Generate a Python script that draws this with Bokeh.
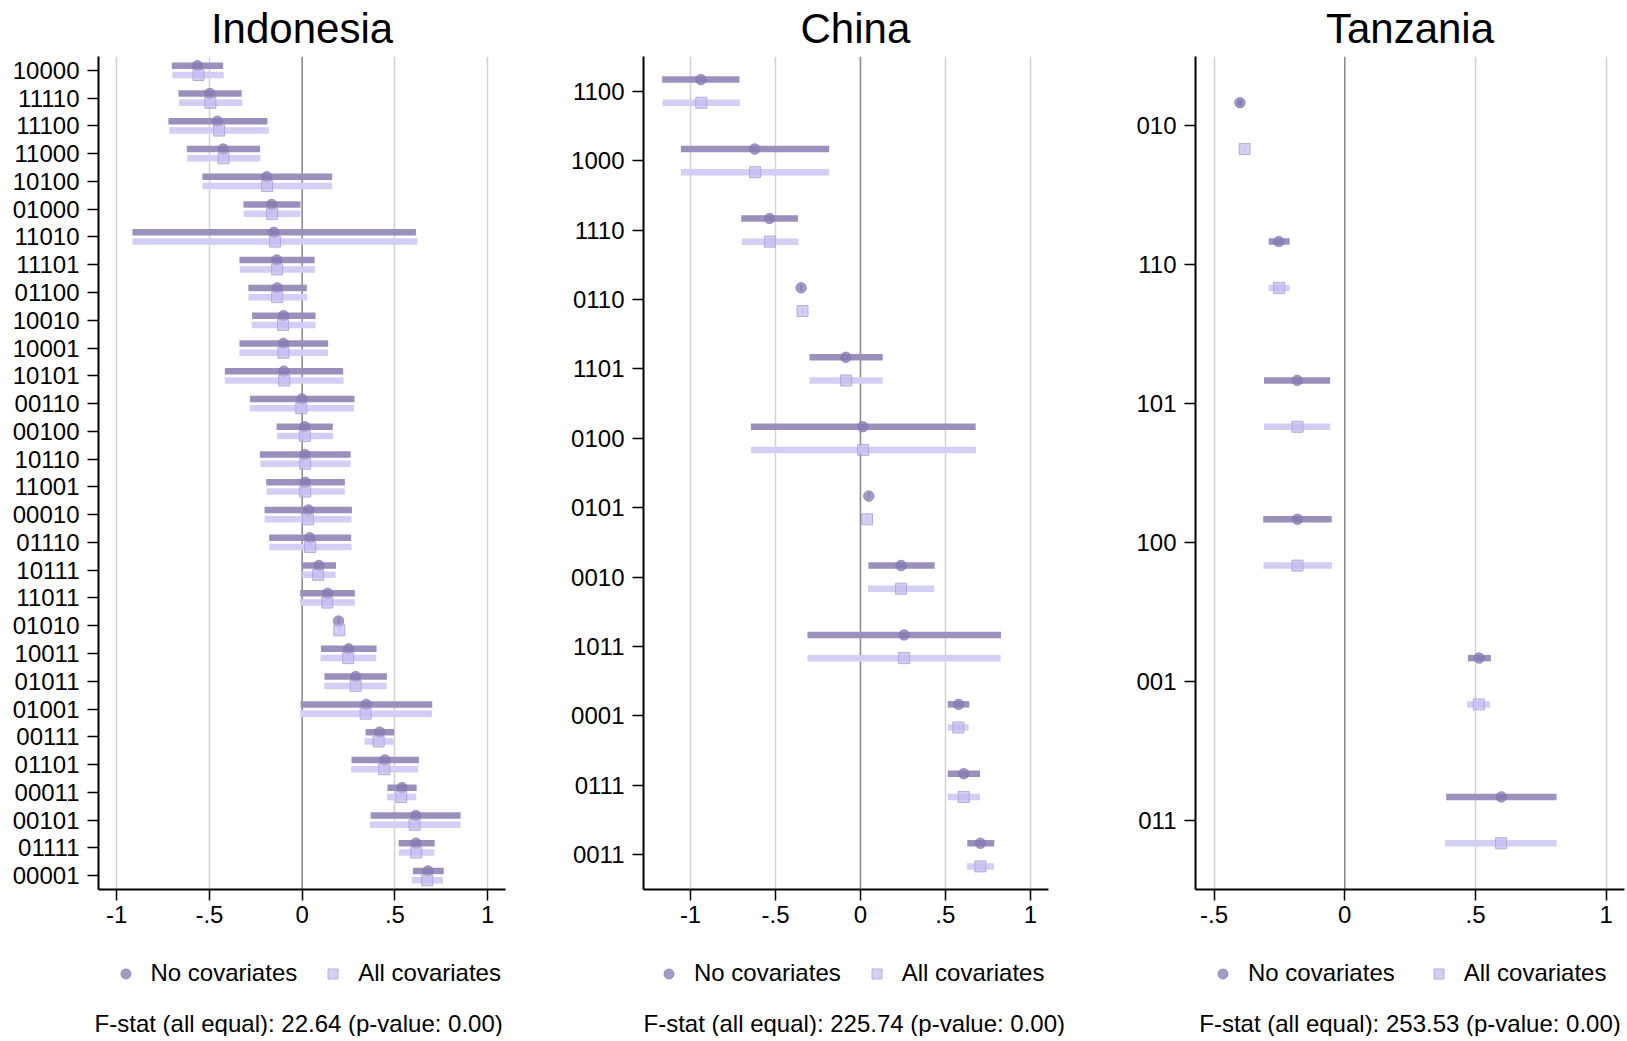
from bokeh.plotting import figure
from bokeh.models import (FactorRange, Range1d, ColumnDataSource, FixedTicker, Span,
                          Legend, LegendItem, Title)
from bokeh.transform import dodge
from bokeh.layouts import row, column
from bokeh.embed import file_html
from bokeh.resources import INLINE

# ---------------- data ----------------
cats_idn = ["10000", "11110", "11100", "11000", "10100", "01000", "11010", "11101", "01100", "10010",
            "10001", "10101", "00110", "00100", "10110", "11001", "00010", "01110", "10111", "11011",
            "01010", "10011", "01011", "01001", "00111", "01101", "00011", "00101", "01111", "00001"]
idn_b0 = [-0.565, -0.498, -0.457, -0.426, -0.191, -0.164, -0.153, -0.137, -0.135, -0.101,
          -0.101, -0.099, -0.002, 0.013, 0.014, 0.016, 0.034, 0.041, 0.090, 0.137,
          0.196, 0.250, 0.288, 0.345, 0.417, 0.446, 0.538, 0.612, 0.613, 0.678]
idn_lo0 = [-0.703, -0.667, -0.721, -0.622, -0.538, -0.317, -0.915, -0.338, -0.290, -0.270,
           -0.338, -0.417, -0.281, -0.138, -0.228, -0.194, -0.203, -0.178, -0.004, -0.011,
           0.191, 0.101, 0.120, -0.009, 0.342, 0.266, 0.460, 0.369, 0.520, 0.597]
idn_hi0 = [-0.426, -0.326, -0.187, -0.227, 0.162, -0.009, 0.613, 0.067, 0.025, 0.072,
           0.140, 0.221, 0.282, 0.165, 0.261, 0.230, 0.268, 0.264, 0.182, 0.284,
           0.201, 0.401, 0.457, 0.701, 0.495, 0.629, 0.617, 0.854, 0.714, 0.763]
idn_b1 = [-0.559, -0.495, -0.448, -0.424, -0.189, -0.162, -0.146, -0.135, -0.135, -0.103,
          -0.101, -0.097, -0.005, 0.014, 0.016, 0.016, 0.031, 0.043, 0.086, 0.135,
          0.200, 0.248, 0.288, 0.342, 0.412, 0.442, 0.534, 0.606, 0.615, 0.674]
idn_lo1 = [-0.700, -0.664, -0.716, -0.619, -0.538, -0.315, -0.915, -0.336, -0.290, -0.272,
           -0.338, -0.417, -0.283, -0.135, -0.225, -0.192, -0.203, -0.176, -0.000, -0.011,
           0.196, 0.099, 0.119, -0.011, 0.336, 0.264, 0.457, 0.365, 0.520, 0.591]
idn_hi1 = [-0.423, -0.322, -0.180, -0.225, 0.162, -0.009, 0.622, 0.070, 0.027, 0.072,
           0.140, 0.223, 0.279, 0.167, 0.261, 0.230, 0.266, 0.266, 0.180, 0.284,
           0.204, 0.399, 0.455, 0.699, 0.493, 0.625, 0.615, 0.854, 0.712, 0.759]

cats_chn = ["1100", "1000", "1110", "0110", "1101", "0100", "0101", "0010", "1011", "0001", "0111", "0011"]
chn_b0 = [-0.939, -0.622, -0.535, -0.349, -0.086, 0.014, 0.049, 0.239, 0.257, 0.578, 0.608, 0.706]
chn_lo0 = [-1.167, -1.057, -0.702, -0.355, -0.300, -0.645, 0.045, 0.047, -0.312, 0.514, 0.514, 0.629]
chn_hi0 = [-0.712, -0.184, -0.367, -0.343, 0.131, 0.678, 0.053, 0.437, 0.827, 0.641, 0.704, 0.788]
chn_b1 = [-0.937, -0.620, -0.533, -0.341, -0.084, 0.016, 0.039, 0.239, 0.257, 0.576, 0.608, 0.706]
chn_lo1 = [-1.165, -1.057, -0.698, -0.345, -0.300, -0.645, 0.035, 0.045, -0.312, 0.514, 0.514, 0.627]
chn_hi1 = [-0.710, -0.184, -0.365, -0.337, 0.131, 0.680, 0.043, 0.435, 0.825, 0.637, 0.704, 0.786]

cats_tza = ["010", "110", "101", "100", "001", "011"]
tza_b0 = [-0.401, -0.252, -0.182, -0.181, 0.514, 0.599]
tza_lo0 = [-0.412, -0.291, -0.309, -0.312, 0.471, 0.388]
tza_hi0 = [-0.390, -0.211, -0.056, -0.050, 0.559, 0.810]
tza_b1 = [-0.383, -0.251, -0.181, -0.181, 0.513, 0.598]
tza_lo1 = [-0.385, -0.291, -0.309, -0.311, 0.468, 0.384]
tza_hi1 = [-0.381, -0.211, -0.056, -0.049, 0.556, 0.810]

xticks_a = [-1, -0.5, 0, 0.5, 1]
xlabels_a = ["-1", "-.5", "0", ".5", "1"]
xticks_t = [-0.5, 0, 0.5, 1]
xlabels_t = ["-.5", "0", ".5", "1"]

titles = ["Indonesia", "China", "Tanzania"]
fstats = ["F-stat (all equal): 22.64  (p-value: 0.00)",
          "F-stat (all equal): 225.74 (p-value: 0.00)",
          "F-stat (all equal): 253.53 (p-value: 0.00)"]
legend_labels = ["No covariates", "All covariates"]

FONT = "Liberation Sans"
FS = "24px"
TOP = 56
FRAME_H = 833
BOTTOM = 45
FOOT_H = 102
DARK_BAR = "#9b90bb"
DARK_PT = "#847ab0"
LIGHT_BAR = "#d3cef3"
LIGHT_PT = "#c3bbee"
LIGHT_EDGE = "#ada4dc"
OFF = 0.167


def circle_style():
    return dict(marker="circle", size=10.5, fill_color=DARK_PT, fill_alpha=0.75,
                line_color=DARK_PT, line_alpha=0.75, line_width=1)


def square_style():
    return dict(marker="square", size=11, fill_color=LIGHT_PT, fill_alpha=0.7,
                line_color=LIGHT_EDGE, line_alpha=0.9, line_width=1)


def panel(name, cats, b0, lo0, hi0, b1, lo1, hi1, xr, xticks, xlabels, fstat,
          width, left, right, title_pos, leg_x, leg_gap, fstat_pos):
    p = figure(width=width, height=TOP + FRAME_H + BOTTOM,
               y_range=FactorRange(factors=list(reversed(cats))),
               x_range=Range1d(*xr),
               output_backend="svg", toolbar_location=None,
               min_border_left=left, min_border_right=right,
               min_border_top=TOP, min_border_bottom=BOTTOM)
    p.outline_line_color = None
    p.background_fill_color = "white"
    p.border_fill_color = "white"

    p.title.text = name
    p.title.align = title_pos[0]
    p.title.offset = title_pos[1]
    p.title.vertical_align = "top"
    p.title.text_font = FONT
    p.title.text_font_size = "42px"
    p.title.text_font_style = "normal"
    p.title.text_color = "black"
    p.title.standoff = 5

    # grid
    p.ygrid.visible = False
    p.xgrid.ticker = FixedTicker(ticks=[t for t in xticks if t != 0])
    p.xgrid.grid_line_color = "#d2d2d2"
    p.xgrid.grid_line_width = 1.5
    p.add_layout(Span(location=0, dimension="height", line_color="#8c8c8c",
                      line_width=1.6, level="underlay"))

    src = ColumnDataSource(dict(cat=cats, b0=b0, lo0=lo0, hi0=hi0, b1=b1, lo1=lo1, hi1=hi1))
    y0 = dodge("cat", OFF, range=p.y_range)
    y1 = dodge("cat", -OFF, range=p.y_range)

    p.segment(x0="lo0", y0=y0, x1="hi0", y1=y0, line_color=DARK_BAR, line_width=6.5, source=src)
    p.segment(x0="lo1", y0=y1, x1="hi1", y1=y1, line_color=LIGHT_BAR, line_width=6.5, source=src)
    p.scatter(x="b0", y=y0, source=src, **circle_style())
    p.scatter(x="b1", y=y1, source=src, **square_style())

    # axes
    for ax in (p.xaxis[0], p.yaxis[0]):
        ax.axis_line_color = "black"
        ax.axis_line_width = 2
        ax.major_tick_line_color = "black"
        ax.major_tick_line_width = 1.5
        ax.major_tick_out = 11
        ax.major_tick_in = 0
        ax.minor_tick_out = 0
        ax.minor_tick_in = 0
        ax.major_label_text_font = FONT
        ax.major_label_text_font_size = FS
        ax.major_label_text_color = "black"
    p.yaxis.major_label_standoff = 8
    p.xaxis.major_label_standoff = 5
    p.xaxis.ticker = FixedTicker(ticks=xticks)
    p.xaxis.major_label_overrides = {float(t): l for t, l in zip(xticks, xlabels)}

    # footer (frame is aligned with the panel above): legend + F-test text
    f = figure(width=width, height=FOOT_H, x_range=Range1d(0, 1), y_range=Range1d(0, 1),
               x_axis_type=None, y_axis_type=None, output_backend="svg",
               toolbar_location=None, min_border=0)
    f.outline_line_color = None
    f.grid.visible = False
    # legend keys use the panel's own data, hidden in the footer
    kc = f.scatter(x="b0", y="b0", source=src, visible=False, **circle_style())
    ks = f.scatter(x="b1", y="b1", source=src, visible=False, **square_style())
    legend = Legend(items=[LegendItem(label=legend_labels[0], renderers=[kc]),
                           LegendItem(label=legend_labels[1], renderers=[ks])],
                    orientation="horizontal", location=(leg_x, 20),
                    label_text_font=FONT, label_text_font_size=FS,
                    label_text_color="black", label_height=25,
                    glyph_width=25, glyph_height=25, label_standoff=13, spacing=leg_gap,
                    padding=0, margin=0, border_line_color=None, background_fill_alpha=0,
                    inactive_fill_alpha=0)
    f.add_layout(legend)
    f.add_layout(Title(text=fstat, align=fstat_pos[0], offset=fstat_pos[1], text_font=FONT,
                       text_font_size=FS, text_font_style="normal", text_color="black",
                       standoff=0), "below")
    return column(p, f)


c1 = panel(titles[0], cats_idn, idn_b0, idn_lo0, idn_hi0, idn_b1, idn_lo1, idn_hi1,
           (-1.098, 1.096), xticks_a, xlabels_a, fstats[0], 540, 98, 35,
           ("center", 0), 14.5, 23, ("center", 0))
c2 = panel(titles[1], cats_chn, chn_b0, chn_lo0, chn_hi0, chn_b1, chn_lo1, chn_hi1,
           (-1.277, 1.107), xticks_a, xlabels_a, fstats[1], 550, 103, 42,
           ("left", 157), 13, 23, ("left", 0))
c3 = panel(titles[2], cats_tza, tza_b0, tza_lo0, tza_hi0, tza_b1, tza_lo1, tza_hi1,
           (-0.571, 1.07), xticks_t, xlabels_t, fstats[2], 536, 105, 2,
           ("center", 0), 15, 31, ("center", 0))

layout = row(c1, c2, c3)
open("out.html", "w").write(file_html(layout, INLINE))
